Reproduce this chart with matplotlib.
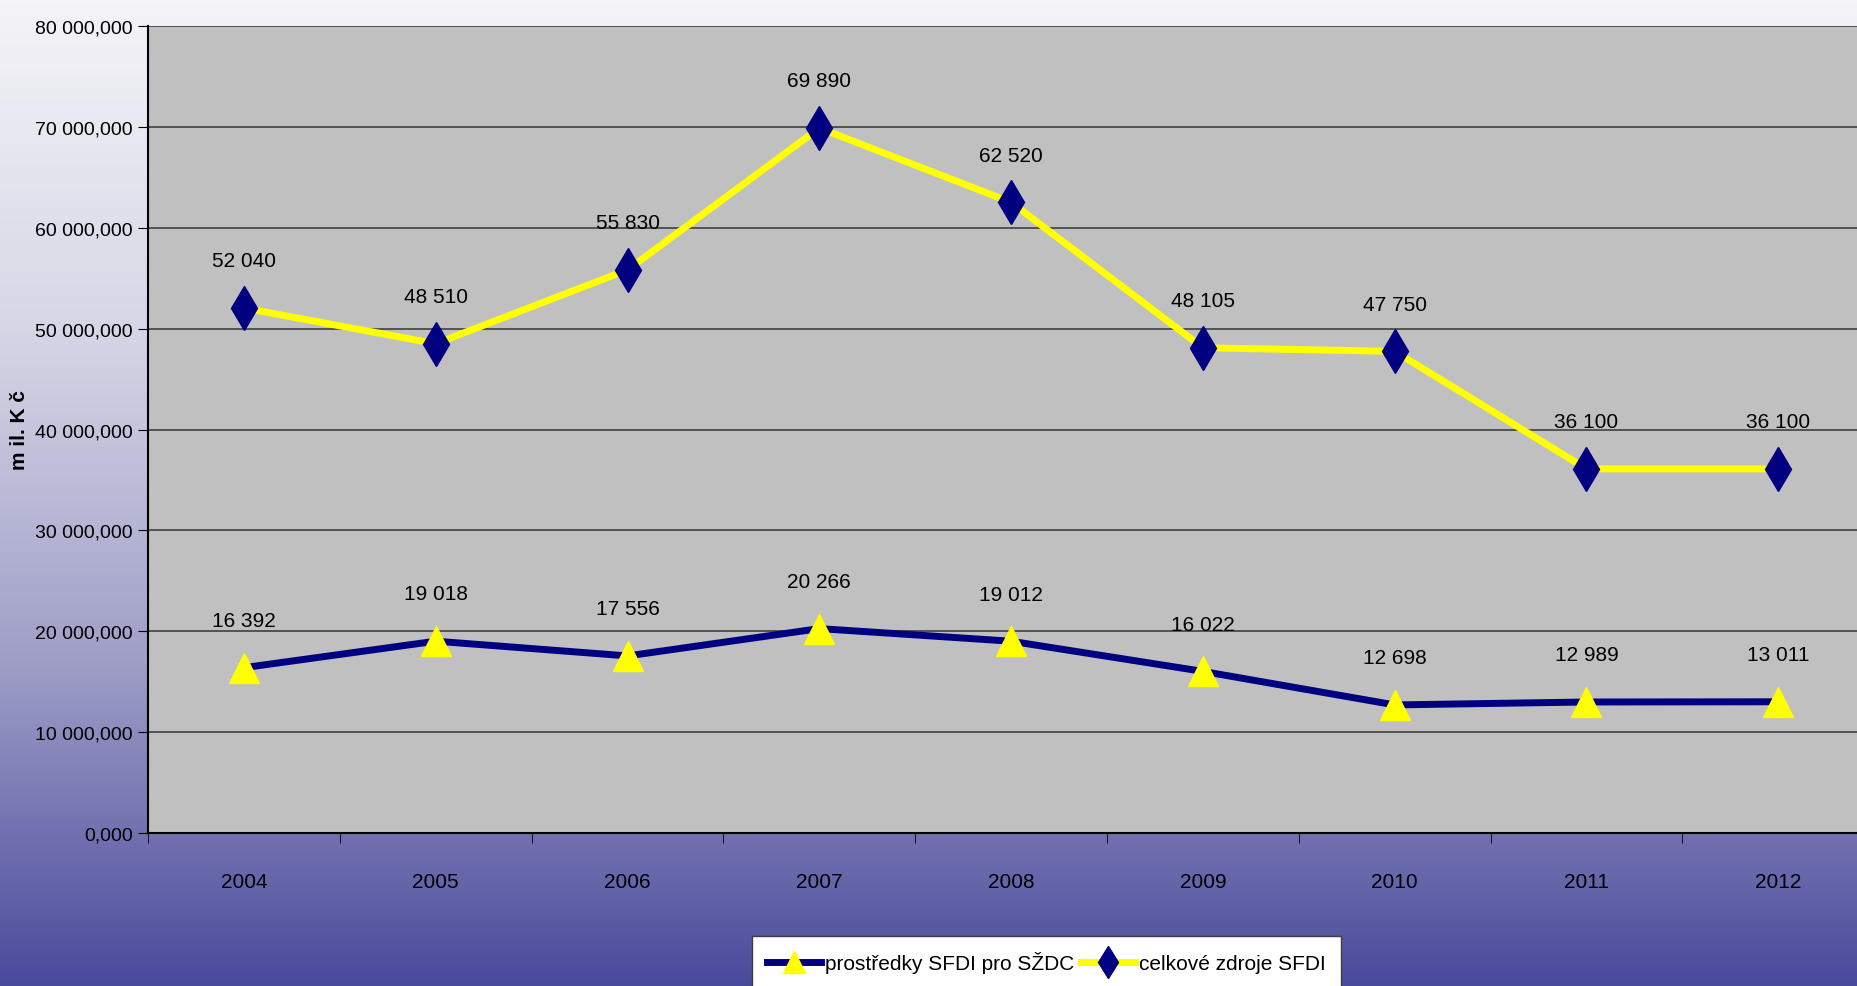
import numpy as np
import matplotlib
matplotlib.use("Agg")
import matplotlib.pyplot as plt
from matplotlib.colors import LinearSegmentedColormap
from matplotlib.ticker import FuncFormatter, FixedLocator

plt.rcParams['font.family'] = ['Liberation Sans Narrow', 'Liberation Sans', 'DejaVu Sans']

# data (as printed on the labels)
years = ["2004", "2005", "2006", "2007", "2008", "2009", "2010", "2011", "2012"]
sfdi_szdc = [16392, 19018, 17556, 20266, 19012, 16022, 12698, 12989, 13011]
sfdi_total = [52040, 48510, 55830, 69890, 62520, 48105, 47750, 36100, 36100]
yticks = [0, 10000, 20000, 30000, 40000, 50000, 60000, 70000, 80000]

fig = plt.figure(figsize=(18.58, 9.87), dpi=100)

# gradient background
bg = fig.add_axes([0, 0, 1, 1], zorder=-10)
cmap = LinearSegmentedColormap.from_list("bg", ["#f4f4f8", "#d6d6e6", "#9f9fc8", "#4a4a9c"])
grad = np.linspace(0, 1, 256).reshape(-1, 1)
bg.imshow(grad, aspect="auto", cmap=cmap, extent=[0, 1, 0, 1])
bg.axis("off")

ax = fig.add_axes([0.0797, 0.155, 0.929, 0.8176])
ax.set_facecolor("#c0c0c0")

x = np.arange(len(years))

ax.plot(x, sfdi_szdc, color="#000080", lw=5, marker="^", ms=22, mfc="#ffff00", mec="#ffff00",
        label="prostředky SFDI pro SŽDC", zorder=3)
ax.plot(x, sfdi_total, color="#ffff00", lw=5, marker="d", ms=22, mfc="#000080", mec="#000080",
        label="celkové zdroje SFDI", zorder=3)

fmt = lambda v: f"{v:,}".replace(",", " ")
for xi, a, b in zip(x, sfdi_szdc, sfdi_total):
    ax.annotate(fmt(a), (xi, a), xytext=(0, 34), textcoords="offset points",
                ha="center", va="center", fontsize=15)
    ax.annotate(fmt(b), (xi, b), xytext=(0, 34), textcoords="offset points",
                ha="center", va="center", fontsize=15)

ax.set_xlim(-0.5, len(years) - 0.5)
ax.set_ylim(0, 80000)
ax.set_xticks(x)
ax.set_xticklabels(years, fontsize=15)
ax.tick_params(axis="x", length=0, pad=28)
ax.xaxis.set_minor_locator(FixedLocator(np.arange(-0.5, len(years), 1)))
ax.tick_params(axis="x", which="minor", length=7, direction="out", color="black")
ax.set_yticks(yticks)
ax.yaxis.set_major_formatter(FuncFormatter(lambda v, p: f"{int(v):,}".replace(",", " ") + ",000"))
ax.tick_params(axis="y", length=7, labelsize=14, pad=4)
ax.grid(axis="y", color="#404040", lw=1.2)
ax.set_axisbelow(True)
for s in ["top", "right"]:
    ax.spines[s].set_visible(False)
ax.spines["left"].set_linewidth(1.5)
ax.spines["bottom"].set_linewidth(1.5)

fig.text(0.0105, 0.564, "m il. K č", rotation=90, fontsize=15, fontweight="bold",
         ha="center", va="center")

leg = fig.legend(loc="lower left", bbox_to_anchor=(742 / 1858, -0.012), ncol=2, fontsize=15,
                 frameon=True, fancybox=False, edgecolor="#404040", framealpha=1,
                 handlelength=2.6, handletextpad=0.2, columnspacing=0.3, borderpad=0.7,
                 markerscale=0.75)

fig.savefig("out.png", dpi=100)
